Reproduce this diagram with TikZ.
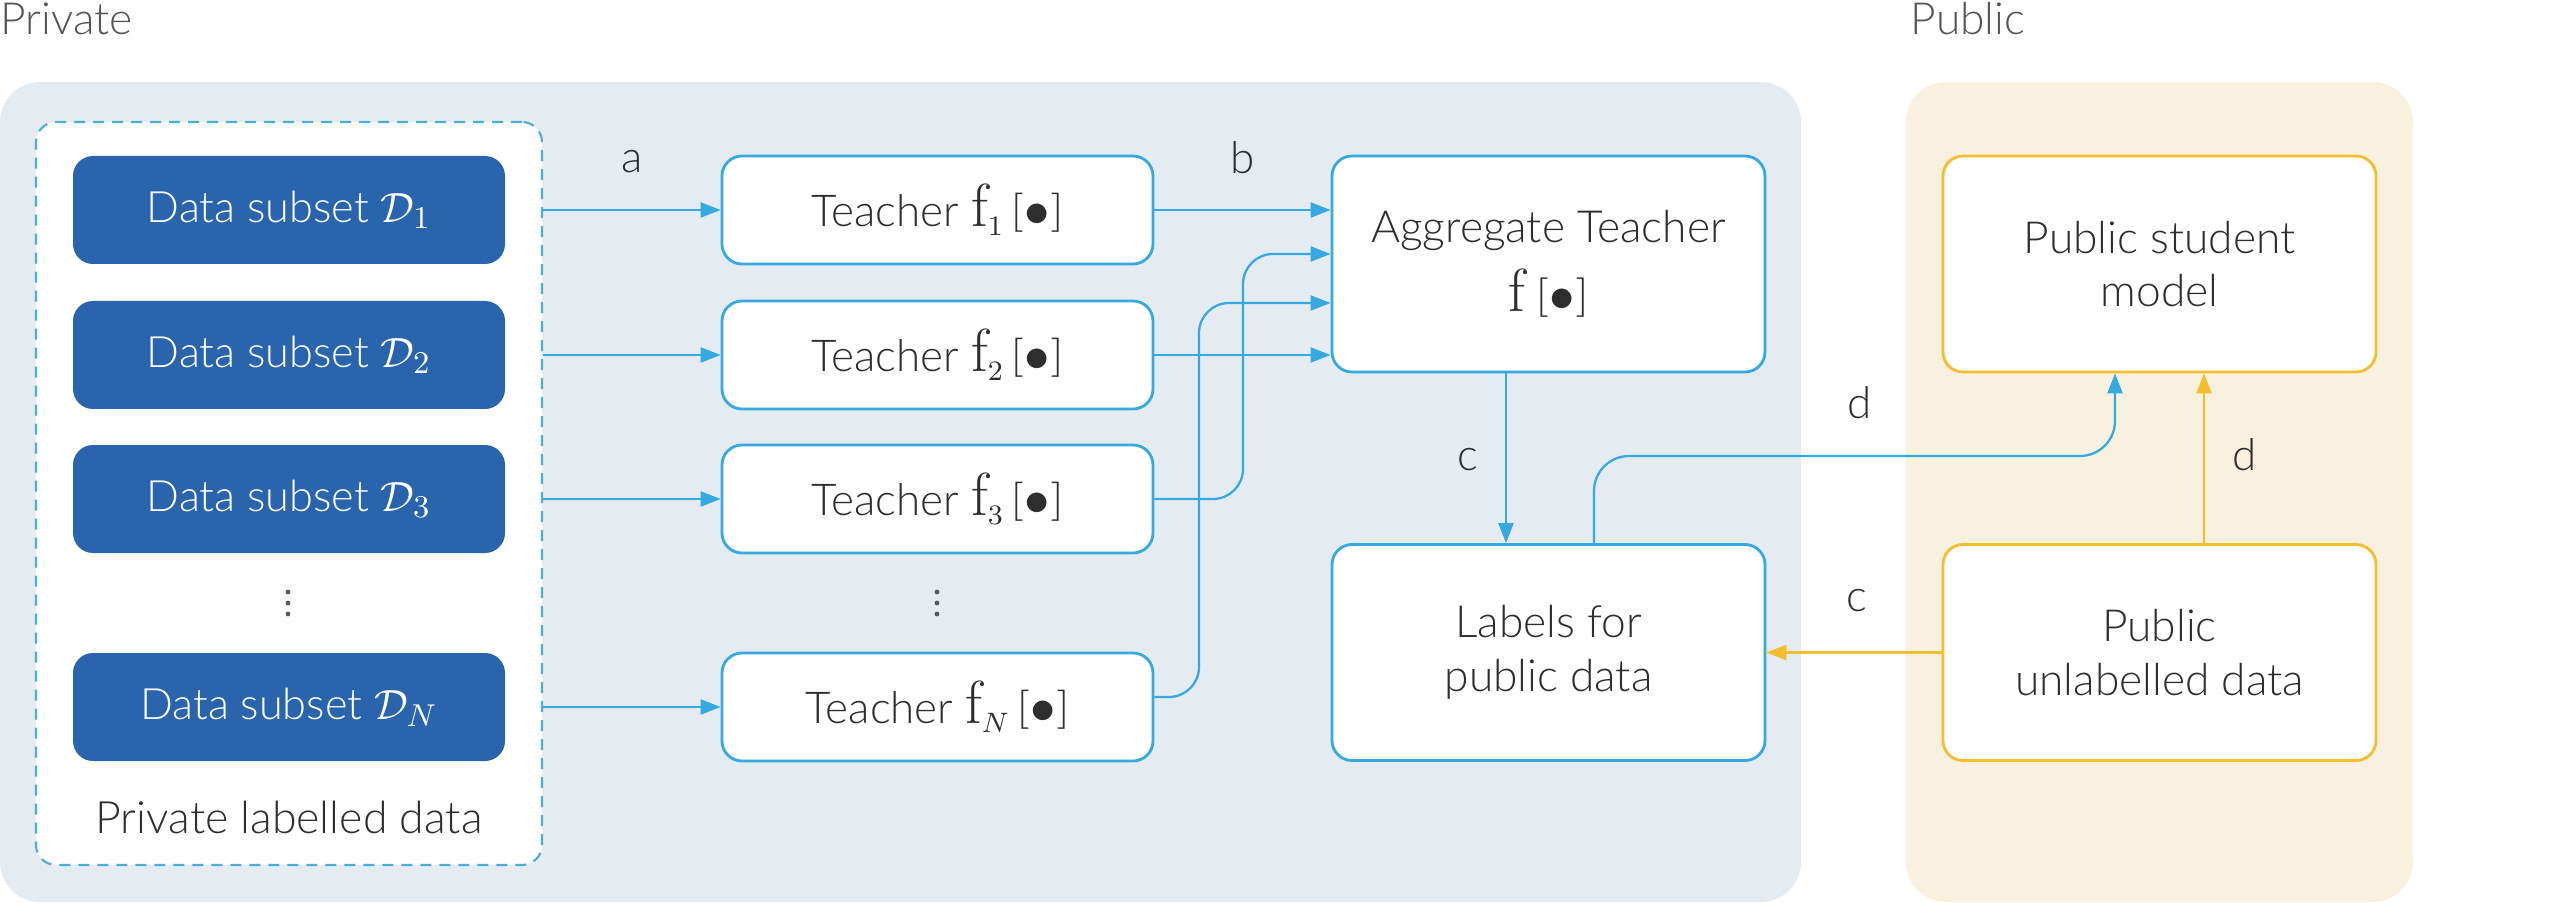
\documentclass[tikz,border=0pt]{standalone}
\usepackage[no-math]{fontspec}
\IfFontExistsTF{Lato Light}{\setmainfont{Lato Light}}{\setmainfont{Lato}}
\usetikzlibrary{arrows.meta}
\definecolor{panelblue}{HTML}{E4ECF1}
\definecolor{panelbeige}{HTML}{F8F1E0}
\definecolor{darkblue}{HTML}{2A64AD}
\definecolor{lineblue}{HTML}{36A9E1}
\definecolor{dashblue}{HTML}{4AAED6}
\definecolor{myorange}{HTML}{F5BE2F}
\definecolor{txt}{HTML}{2E2E2E}
\definecolor{hdr}{HTML}{555555}
\newcommand{\bigf}[1]{{\fontsize{17}{17}\selectfont$\mathrm{f}_{\scriptscriptstyle #1}$}}
\newcommand{\brk}{\,[{\fontsize{14}{14}\selectfont$\bullet$}]}
\tikzset{
  databox/.style={fill=darkblue, text=white, rounded corners=2mm, minimum width=43.2mm, minimum height=10.8mm, inner sep=0pt, font=\fontsize{12.3}{14}\selectfont},
  teachbox/.style={draw=lineblue, fill=white, line width=0.8pt, rounded corners=2mm, minimum width=43.1mm, minimum height=10.8mm, inner sep=0pt, text=txt, font=\fontsize{12.5}{15}\selectfont},
  bigbox/.style={draw=lineblue, fill=white, line width=0.8pt, rounded corners=2mm, minimum width=43.3mm, minimum height=21.6mm, inner sep=0pt, text=txt, align=center, font=\fontsize{12.6}{15.3}\selectfont},
  pubbox/.style={bigbox, draw=myorange},
  conn/.style={draw=lineblue, line width=0.65pt, -{Triangle[length=2mm,width=1.5mm]}},
  oconn/.style={draw=myorange, line width=0.65pt, -{Triangle[length=2mm,width=1.5mm]}},
  lbl/.style={text=txt, font=\fontsize{12.5}{15}\selectfont, inner sep=0pt},
  hdrlbl/.style={text=hdr, font=\fontsize{12.6}{15}\selectfont, inner sep=0pt, anchor=base west},
}
\begin{document}
\begin{tikzpicture}[x=0.1mm,y=-0.1mm]
\useasboundingbox (0,0) rectangle (2560,903);
% panels
\fill[panelblue, rounded corners=4mm] (0,82) rectangle (1801,902);
\fill[panelbeige, rounded corners=4mm] (1906,82) rectangle (2413,902);
\node[hdrlbl] (hpriv) at (0,35) {Private};
\node[hdrlbl] (hpub) at (1910,35) {Public};
% private labelled data container
\node[draw=dashblue, fill=white, line width=0.6pt, dash pattern=on 1.1mm off 0.8mm, rounded corners=2mm, minimum width=50.6mm, minimum height=74.3mm, inner sep=0pt] (priv) at (289,493.5) {};
\node[databox] (d1) at (289,210) {Data subset $\mathcal{D}_1$};
\node[databox] (d2) at (289,355) {Data subset $\mathcal{D}_2$};
\node[databox] (d3) at (289,499) {Data subset $\mathcal{D}_3$};
\node[databox] (dN) at (289,707) {Data subset $\mathcal{D}_N$};
\node[lbl, font=\fontsize{12.7}{15}\selectfont] (privlbl) at (289,817) {Private labelled data};
\foreach \yy in {592,603,614} \fill[txt!80] (288,\yy) circle[radius=0.24mm];
% teachers
\node[teachbox] (t1) at (937.5,210) {Teacher \bigf{1}\brk};
\node[teachbox] (t2) at (937.5,355) {Teacher \bigf{2}\brk};
\node[teachbox] (t3) at (937.5,499) {Teacher \bigf{3}\brk};
\node[teachbox] (tN) at (937.5,707) {Teacher \bigf{N}\brk};
\foreach \yy in {592,603,614} \fill[txt!80] (937,\yy) circle[radius=0.24mm];
% aggregate etc
\node[bigbox, font=\fontsize{12.6}{19.5}\selectfont] (agg) at (1548.5,264) {Aggregate Teacher\\{\fontsize{17}{17}\selectfont$\mathrm{f}$}\brk};
\node[bigbox] (lab) at (1548.5,652.5) {Labels for\\public data};
\node[pubbox] (stu) at (2159.5,264) {Public student\\model};
\node[pubbox] (unl) at (2159.5,652.5) {Public\\unlabelled data};
% a arrows
\draw[conn] (d1 -| priv.east) -- (t1.west);
\draw[conn] (d2 -| priv.east) -- (t2.west);
\draw[conn] (d3 -| priv.east) -- (t3.west);
\draw[conn] (dN -| priv.east) -- (tN.west);
\node[lbl] (la) at (632,162) {a};
% b arrows
\coordinate (k3) at (1243,254);
\coordinate (kN) at (1199,303);
\draw[conn] (t1.east) -- (t1.east -| agg.west);
\draw[conn] (t2.east) -- (t2.east -| agg.west);
\draw[conn, rounded corners=3mm] (t3.east) -| (k3) -- (k3 -| agg.west);
\draw[conn, rounded corners=3mm] ([yshift=1mm]tN.east) -| (kN) -- (kN -| agg.west);
\node[lbl] (lb) at (1243,158) {b};
% c arrows
\draw[conn] ([xshift=-4.25mm]agg.south) -- ([xshift=-4.25mm]lab.north);
\node[lbl] (lc1) at (1468,460) {c};
\draw[oconn] (unl.west) -- (lab.east);
\node[lbl] (lc2) at (1857,601) {c};
% d arrows
\coordinate (kd) at (1900,456);
\draw[conn, rounded corners=3.5mm] ([xshift=4.55mm]lab.north) |- (kd) -| ([xshift=-4.45mm]stu.south);
\node[lbl] (ld1) at (1860,403) {d};
\draw[oconn] ([xshift=4.45mm]unl.north) -- ([xshift=4.45mm]stu.south);
\node[lbl] (ld2) at (2245,455) {d};
\end{tikzpicture}
\end{document}
